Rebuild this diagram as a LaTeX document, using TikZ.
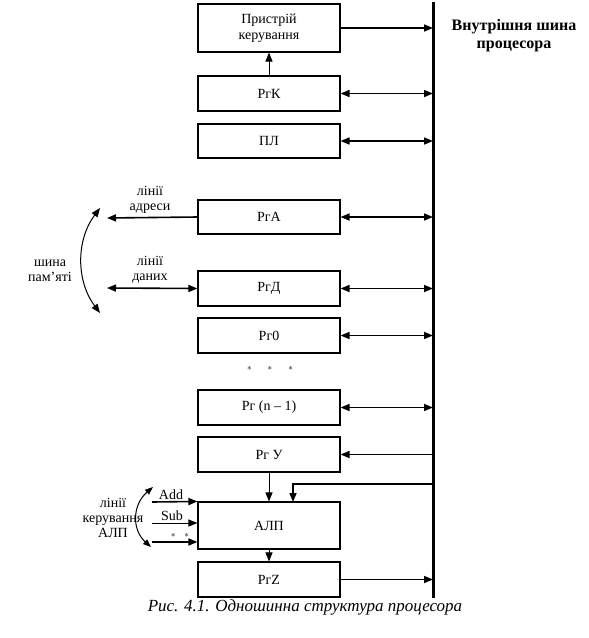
\documentclass[tikz,border=0pt]{standalone}
\usepackage{fontspec}
\setmainfont{Liberation Serif}
\usetikzlibrary{arrows.meta}
\begin{document}
\begin{tikzpicture}[x=1pt,y=-1pt,
  box/.style={draw,line width=1.1pt,minimum width=142pt,inner sep=0pt,font=\fontsize{14}{16}\selectfont,align=center},
  arr/.style={line width=1.6pt,-{Triangle[length=9pt,width=7pt]}},
  darr/.style={line width=1.6pt,{Triangle[length=9pt,width=7pt]}-{Triangle[length=9pt,width=7pt]}},
  thin/.style={line width=1pt,-{Triangle[length=9pt,width=7pt]}},
  lbl/.style={font=\fontsize{14}{15}\selectfont,align=center,inner sep=0pt}]
\useasboundingbox (0,0) rectangle (589,638);
\fill[white] (0,0) rectangle (589,638);
% bus
\coordinate (bustop) at (433,2);
\coordinate (busbot) at (433,598);
\draw[line width=3pt] (bustop) -- (busbot);
% boxes
\node[box,minimum height=48pt] (pu) at (269,28) {Пристрій\\керування};
\node[box,minimum height=35pt] (rgk) at (269,93.5) {РгК};
\node[box,minimum height=34pt] (pl) at (269,141) {ПЛ};
\node[box,minimum height=34pt] (rga) at (269,217) {РгА};
\node[box,minimum height=35pt] (rgd) at (269,288.5) {РгД};
\node[box,minimum height=35pt] (rg0) at (269,335.5) {Рг0};
\node[font=\small] (dots1) at (270,368) {$*\hspace{14pt}*\hspace{14pt}*$};
\node[box,minimum height=35pt] (rgn) at (269,407.5) {Рг (n -- 1)};
\node[box,minimum height=35pt] (rgu) at (269,454.5) {Рг У};
\node[box,minimum height=47pt] (alu) at (269,525.5) {АЛП};
\node[box,minimum height=35pt] (rgz) at (269,579.5) {РгZ};
% bus connections
\draw[arr] (pu.east) -- (pu.east -| bustop);
\draw[thin] (rgk.north) -- (pu.south);
\draw[darr] (rgk.east) -- (rgk.east -| bustop);
\draw[darr] (pl.east) -- (pl.east -| bustop);
\draw[darr] (rga.east) -- (rga.east -| bustop);
\draw[darr] (rgd.east) -- (rgd.east -| bustop);
\draw[darr] (rg0.east) -- (rg0.east -| bustop);
\draw[darr] (rgn.east) -- (rgn.east -| bustop);
\draw[arr] (rgu.east -| bustop) -- (rgu.east);
\draw[arr] (rgz.east) -- (rgz.east -| bustop);
\draw[thin] (rgu.south) -- (alu.north);
\draw[thin] (alu.south) -- (rgz.north);
\coordinate (fb) at (433,484);
\coordinate (aluin) at (293,502);
\draw[arr] (fb) -| (aluin);
% memory lines
\coordinate (addrL) at (107,218);
\coordinate (dataL) at (107,288);
\draw[arr] (rga.west) -- (addrL);
\draw[darr] (dataL) -- (rgd.west);
\node[lbl] (addrlbl) at (150,200) {лінії\\адреси};
\node[lbl] (datalbl) at (150,270) {лінії\\даних};
\coordinate (m1) at (100,208);
\coordinate (m2) at (100,313);
\draw[line width=1pt,{Triangle[length=9pt,width=7pt]}-{Triangle[length=9pt,width=7pt]}] (m1) .. controls (76,240) and (76,281) .. (m2);
\node[lbl] (memlbl) at (50,271) {шина\\пам'яті};
% ALU control lines
\coordinate (addL) at (152,502);
\coordinate (subL) at (152,523);
\coordinate (thirdL) at (152,542);
\draw[arr] (addL) -- (alu.north west);
\draw[thin] (subL) -- (subL -| alu.west);
\draw[arr] (thirdL) -- (thirdL -| alu.west);
\node[lbl,anchor=south] (addlbl) at (171,500) {Add};
\node[lbl,anchor=south] (sublbl) at (172,521) {Sub};
\node[font=\small] (dots2) at (180,535) {$*\quad*$};
\coordinate (c1) at (153,487);
\coordinate (c2) at (151,547);
\draw[line width=1pt,{Triangle[length=8pt,width=6pt]}-{Triangle[length=8pt,width=6pt]}] (c1) .. controls (132,505) and (132,530) .. (c2);
\node[lbl] (alulbl) at (113,518) {лінії\\керування\\АЛП};
% titles
\node[font=\bfseries\fontsize{16}{18}\selectfont,align=center] (title) at (514,36) {Внутрішня шина\\процесора};
\node[font=\itshape\fontsize{17}{19}\selectfont] (caption) at (305,607) {Рис. 4.1. Одношинна структура процесора};
\end{tikzpicture}
\end{document}
